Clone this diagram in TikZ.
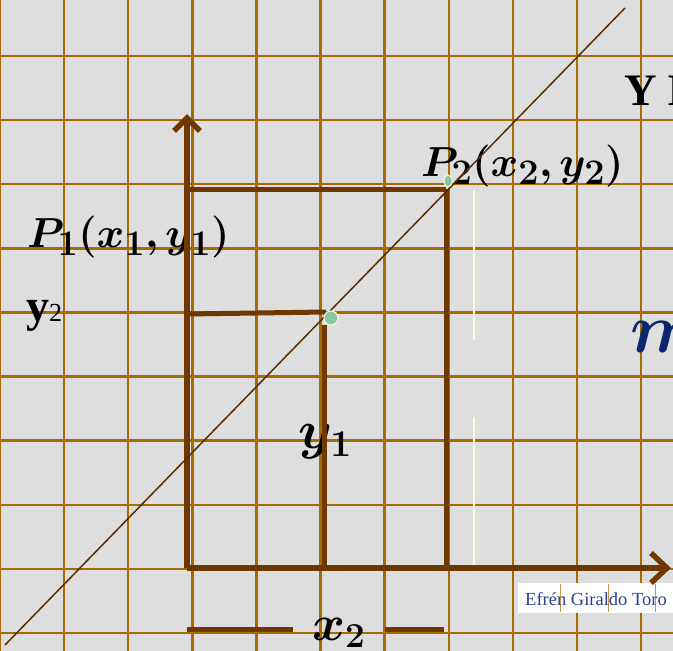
\RequirePackage{fix-cm}
\documentclass[tikz,border=0pt]{standalone}
\usepackage{amsmath,bm}
\usepackage{fontspec}
\setmainfont{Liberation Serif}
\usetikzlibrary{arrows.meta,shapes.geometric}
\DeclareMathSizes{42}{42}{36}{28}
\definecolor{bgc}{RGB}{222,222,222}
\definecolor{gridc}{RGB}{166,108,0}
\definecolor{brownc}{RGB}{110,56,0}
\definecolor{diagc}{RGB}{90,45,0}
\definecolor{creamc}{RGB}{255,248,220}
\definecolor{dotc}{RGB}{136,200,160}
\definecolor{bluem}{RGB}{10,40,110}
\definecolor{wmc}{RGB}{45,65,145}
\tikzset{
  gridline/.style={draw=gridc,line width=2.4pt},
  axisline/.style={draw=brownc,line width=5.5pt},
  seg/.style={draw=brownc,line width=5pt},
  diag/.style={draw=diagc,line width=1.5pt},
  creamline/.style={draw=creamc,line width=1.6pt},
  dotstyle/.style={fill=dotc,draw=creamc,line width=1pt},
  lbl/.style={inner sep=0pt,anchor=base west,text=black},
}
\begin{document}
\begin{tikzpicture}[x=1pt,y=-1pt]
\useasboundingbox (0,0) rectangle (673,651);
\clip (0,0) rectangle (673,651);
\fill[bgc] (0,0) rectangle (673,651);
% grid
\foreach \i in {0,...,10} \draw[gridline] ({64.1*\i},0) -- ({64.1*\i},651);
\foreach \j in {0,...,9} \draw[gridline] (0,{56+64.1*\j}) -- (673,{56+64.1*\j});
% watermark
\node[fill=white,inner sep=0pt,minimum width=155pt,minimum height=30pt,anchor=north west] (wm) at (518,583) {};
\foreach \xx in {560,608,655} \draw[draw=gridc!70,line width=1pt] (\xx,584) -- (\xx,612);
\node[inner sep=0pt,text=wmc,font=\fontsize{18.5}{20}\selectfont] (wmt) at (596,599) {Efrén Giraldo Toro};
% cream lines
\coordinate (c1) at (474,190); \coordinate (c2) at (474,340);
\coordinate (c3) at (474,417); \coordinate (c4) at (474,568);
\draw[creamline] (c1) -- (c2);
\draw[creamline] (c3) -- (c4);
% labels
\node[lbl,font=\fontsize{42}{48}\selectfont] (p2) at (421,176) {$\bm{P_2(x_2,y_2)}$};
\node[lbl,font=\fontsize{42}{48}\selectfont] (p1) at (27,247) {$\bm{P_1(x_1,y_1)}$};
\node[lbl,font=\fontsize{46}{50}\selectfont\bfseries] (ylab) at (26,321) {y\fontsize{26}{28}\selectfont\mdseries 2};
\node[lbl,font=\fontsize{54}{60}\selectfont] (y1) at (298,448) {$\bm{y_1}$};
\node[lbl,font=\fontsize{50}{56}\selectfont] (x2) at (312,640) {$\bm{x_2}$};
\node[lbl,font=\fontsize{45}{50}\selectfont\bfseries] (ylet) at (624,105) {Y I};
\node[lbl,text=bluem,font=\fontsize{70}{76}\selectfont] (mlet) at (630,352) {$\bm{m}$};
% points
\coordinate (O) at (187,568);
\coordinate (Ytip) at (187,114);
\coordinate (Xtip) at (671,568);
\coordinate (A) at (187,189);
\coordinate (B) at (446,189);
\coordinate (Bb) at (446,568);
\coordinate (C) at (187,314);
\coordinate (D) at (326,312);
\coordinate (E) at (324,325);
\coordinate (Eb) at (324,568);
\coordinate (L1) at (187,629); \coordinate (L2) at (293,629);
\coordinate (R1) at (385,629); \coordinate (R2) at (444,629);
\coordinate (d1) at (5,645); \coordinate (d2) at (625,8);
% brown lines
\draw[seg] (A) -- (B);
\draw[seg] (B) -- (Bb);
\draw[seg] (C) -- (D);
\draw[seg] (E) -- (Eb);
\draw[seg] (L1) -- (L2);
\draw[seg] (R1) -- (R2);
\draw[axisline,-{Straight Barb[length=13pt,width=26pt]}] (O) -- (Ytip);
\draw[axisline,-{Straight Barb[length=16pt,width=30pt]}] (O) -- (Xtip);
% diagonal
\draw[diag] (d1) -- (d2);
% dots
\node[dotstyle,ellipse,inner sep=0pt,minimum width=8pt,minimum height=12pt] (pt2) at (448,181) {};
\node[dotstyle,circle,inner sep=0pt,minimum size=14pt] (pt1) at (331,318) {};
\end{tikzpicture}
\end{document}
